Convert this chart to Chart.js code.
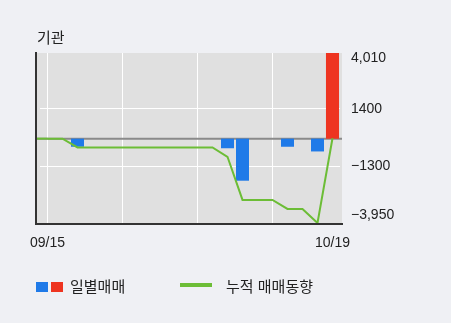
<!DOCTYPE html>
<html lang="ko">
<head>
    <meta charset="UTF-8">
    <title>기관 매매동향</title>
    <script src="https://cdn.jsdelivr.net/npm/chart.js"></script>
    <style>
        body {
            margin: 0;
            background: #eff0f4;
            font-family: "Noto Sans CJK KR", sans-serif;
            color: #222;
        }
        #wrap {
            position: relative;
            width: 451px;
            height: 323px;
        }
        #chart {
            position: absolute;
            left: 0;
            top: 0;
        }
        .txt {
            position: absolute;
            font-size: 15px;
            line-height: 18px;
            white-space: nowrap;
        }
        .box {
            position: absolute;
        }
    </style>
</head>
<body>
    <div id="wrap">
        <canvas id="chart" width="451" height="323"></canvas>
        <div class="txt" style="left:37px; top:28px;">기관</div>
        <div class="box" style="left:36px; top:282px; width:12px; height:10px; background:#1f7ae8;"></div>
        <div class="box" style="left:51px; top:282px; width:12px; height:10px; background:#ee3420;"></div>
        <div class="txt" style="left:70px; top:277px;">일별매매</div>
        <div class="box" style="left:180px; top:283px; width:32px; height:4px; background:#6cbd36;"></div>
        <div class="txt" style="left:226px; top:277px;">누적 매매동향</div>
    </div>
    <script>
        // trading days shown on the chart
        const dates = ['09/15', '09/16', '09/17', '09/23', '09/24', '09/27', '09/28', '09/29', '09/30', '10/01',
                       '10/05', '10/06', '10/07', '10/08', '10/12', '10/13', '10/14', '10/15', '10/18', '10/19'];
        // daily net trading (bars)
        const daily = [0, 0, -380, 0, 0, 0, 0, 0, 0, 0,
                       0, 0, -450, -1970, 0, 0, -380, 0, -600, 4010];
        // cumulative trading (line)
        const cumulative = [0, 0, -410, -410, -410, -410, -410, -410, -410, -410,
                            -410, -410, -850, -2870, -2870, -2870, -3290, -3290, -3950, 20];
        // right axis ticks
        const yTicks = [4010, 1400, -1300, -3950];
        const yTickLabels = ['4,010', '1400', '\u22121300', '\u22123,950'];

        const BLUE = '#1f7ae8';
        const RED = '#ee3420';
        const GREEN = '#6cbd36';

        // gray plot background, zero line, axis lines, right labels
        const decor = {
            id: 'decor',
            beforeDraw(chart) {
                const { ctx, chartArea } = chart;
                ctx.save();
                ctx.fillStyle = '#e0e0e0';
                ctx.fillRect(36, chartArea.top, chartArea.right + 2 - 36, chartArea.bottom - chartArea.top);
                ctx.restore();
            },
            beforeDatasetsDraw(chart) {
                const { ctx, chartArea, scales } = chart;
                const y0 = scales.y.getPixelForValue(0);
                ctx.save();
                ctx.strokeStyle = '#8a8a8a';
                ctx.lineWidth = 2;
                ctx.beginPath();
                ctx.moveTo(36, y0);
                ctx.lineTo(chartArea.right + 2, y0);
                ctx.stroke();
                // cumulative line runs in from the left edge
                ctx.strokeStyle = GREEN;
                ctx.lineWidth = 2;
                const yc = scales.y.getPixelForValue(cumulative[0]);
                ctx.beginPath();
                ctx.moveTo(36, yc);
                ctx.lineTo(scales.x.getPixelForValue(0), yc);
                ctx.stroke();
                ctx.restore();
            },
            afterDraw(chart) {
                const { ctx, chartArea, scales } = chart;
                ctx.save();
                ctx.strokeStyle = '#333';
                ctx.lineWidth = 2;
                ctx.beginPath();
                ctx.moveTo(36, chartArea.top - 1);
                ctx.lineTo(36, chartArea.bottom + 1);
                ctx.lineTo(chartArea.right + 3, chartArea.bottom + 1);
                ctx.stroke();

                ctx.fillStyle = '#222';
                ctx.font = '14px "Liberation Sans", Arial, sans-serif';
                ctx.textAlign = 'left';
                ctx.textBaseline = 'middle';
                yTicks.forEach((v, i) => {
                    let y = scales.y.getPixelForValue(v);
                    y = Math.max(chartArea.top + 5, Math.min(chartArea.bottom - 8, y));
                    ctx.fillText(yTickLabels[i], 351, y);
                });
                ctx.restore();
            }
        };

        new Chart(document.getElementById('chart').getContext('2d'), {
            data: {
                labels: dates,
                datasets: [
                    {
                        type: 'line',
                        label: '누적 매매동향',
                        data: cumulative,
                        borderColor: GREEN,
                        borderWidth: 2,
                        pointRadius: 0,
                        tension: 0,
                        order: 0
                    },
                    {
                        type: 'bar',
                        label: '일별매매',
                        data: daily,
                        backgroundColor: daily.map(v => v >= 0 ? RED : BLUE),
                        borderWidth: 0,
                        categoryPercentage: 1,
                        barPercentage: 0.87,
                        order: 1
                    }
                ]
            },
            options: {
                responsive: false,
                animation: false,
                layout: { padding: { left: 40, top: 53, right: 0, bottom: 0 } },
                plugins: {
                    legend: { display: false },
                    tooltip: { enabled: false }
                },
                scales: {
                    x: {
                        offset: true,
                        border: { display: false },
                        grid: {
                            offset: false,
                            drawTicks: false,
                            color: ctx => (ctx.index % 5 === 0 && ctx.index < dates.length - 1) ? '#ffffff' : 'rgba(0,0,0,0)',
                            lineWidth: 1
                        },
                        ticks: {
                            autoSkip: false,
                            maxRotation: 0,
                            padding: 12,
                            color: '#222',
                            font: { family: '"Liberation Sans", Arial, sans-serif', size: 14 },
                            callback: (val, i) => (i === 0 || i === dates.length - 1) ? dates[i] : ''
                        },
                        afterFit: scale => { scale.height = 100; }
                    },
                    y: {
                        position: 'right',
                        min: yTicks[yTicks.length - 1],
                        max: yTicks[0],
                        border: { display: false },
                        afterBuildTicks: scale => { scale.ticks = yTicks.map(v => ({ value: v })); },
                        grid: {
                            drawTicks: false,
                            color: ctx => (ctx.tick && (ctx.tick.value === 1400 || ctx.tick.value === -1300)) ? '#ffffff' : 'rgba(0,0,0,0)'
                        },
                        ticks: { display: false },
                        afterFit: scale => { scale.width = 111; }
                    }
                }
            },
            plugins: [decor]
        });
    </script>
</body>
</html>
